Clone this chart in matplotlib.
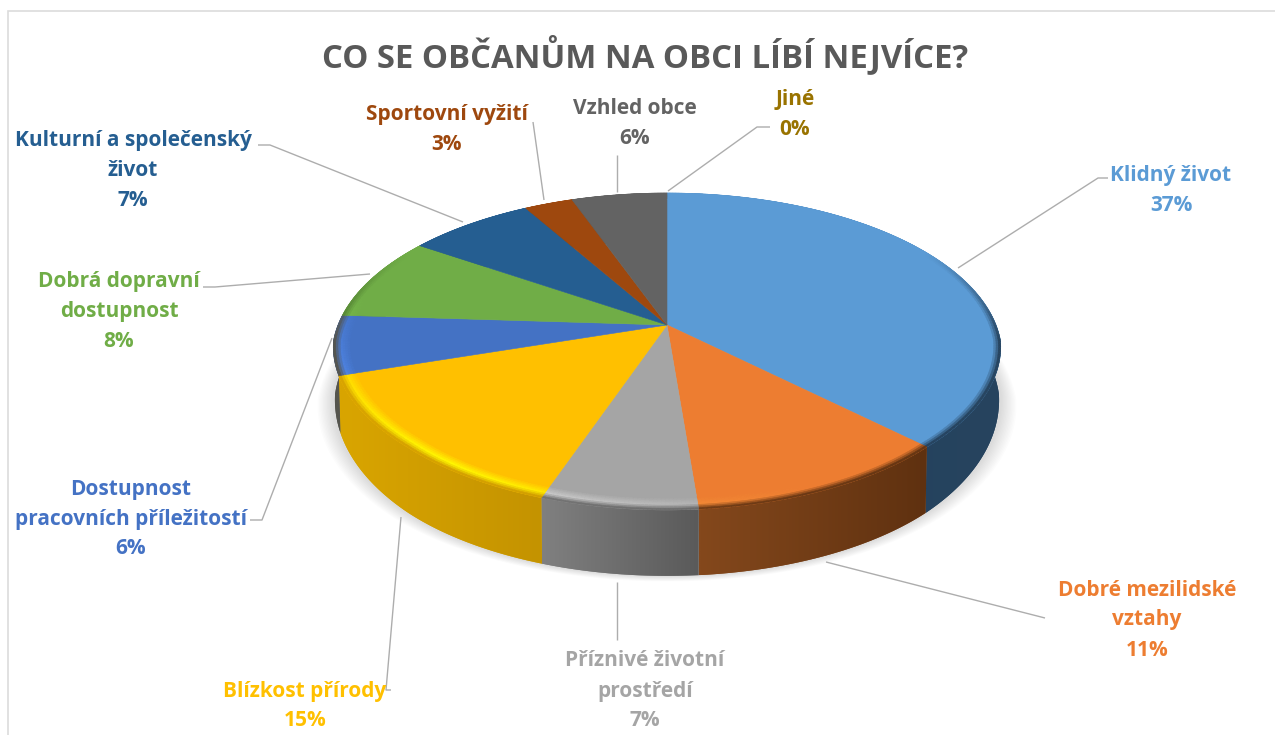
import matplotlib
matplotlib.use("Agg")
import matplotlib.pyplot as plt
import numpy as np
from matplotlib.collections import PolyCollection
from matplotlib.colors import to_rgb
from matplotlib.patches import Polygon, Rectangle

plt.rcParams['font.family'] = ['Open Sans', 'DejaVu Sans']

title = "CO SE OBČANŮM NA OBCI LÍBÍ NEJVÍCE?"
labels = ["Klidný život", "Dobré mezilidské\nvztahy", "Příznivé životní\nprostředí",
          "Blízkost přírody", "Dostupnost\npracovních příležitostí", "Dobrá dopravní\ndostupnost",
          "Kulturní a společenský\nživot", "Sportovní vyžití", "Vzhled obce", "Jiné"]
# shares, the printed labels are these rounded
values = [37.4, 11.3, 6.6, 14.7, 6.0, 8.45, 7.25, 2.8, 5.5, 0]
colors = ["#5B9BD5", "#ED7D31", "#A5A5A5", "#FFC000", "#4472C4",
          "#70AD47", "#255E91", "#9E480E", "#636363", "#997300"]
side_left = ["#1F3F5C", "#84481C", "#808080", "#D9A500", "#55554E",
             "#4E7A30", "#1A4166", "#6E320A", "#454545", "#6B5000"]
side_right = ["#27445F", "#5F3110", "#5A5A5A", "#C49300", "#55554E",
              "#4E7A30", "#1A4166", "#6E320A", "#454545", "#6B5000"]

# label centres (x, y of first line) and leader lines, in pixels
label_pos = [(1171, 175), (1147, 590), (645, 661), (305, 691), (131, 489),
             (119, 281), (133, 140), (447, 114), (635, 108), (795, 99)]
leaders = [[(958, 268), (1098, 178), (1108, 178)],
           [(826, 562), (1045, 618)],
           [(617, 582), (617, 640)],
           [(401, 517), (386, 690), (391, 690)],
           [(332, 338), (262, 520), (250, 520)],
           [(370, 274), (215, 287), (203, 287)],
           [(463, 222), (270, 145), (258, 145)],
           [(544, 200), (533, 122)],
           [(617, 192), (617, 155)],
           [(668, 191), (757, 127), (770, 127)]]

cx, cy = 667, 325
a, b, k = 156.4, 329, 0.185


def project(theta, r=1.0):
    u, v = r * np.sin(theta), r * np.cos(theta)
    d = 1 + k * v
    return cx + b * u / d, cy - a * v / d


def rim(theta):
    return 1 - 0.03 * np.clip((-0.1 - np.cos(theta)) / 0.6, 0, 1)


def wall_depth(theta):
    return 48 + 18 * np.clip((0.1 - np.cos(theta)) / 0.8, 0, 1)


def mix(c1, c2, t):
    return tuple((1 - t) * np.array(c1) + t * np.array(c2))


fig = plt.figure(figsize=(12.75, 7.35), dpi=100, facecolor="white")
ax = fig.add_axes([0, 0, 1, 1])
ax.set_xlim(0, 1275)
ax.set_ylim(735, 0)
ax.axis("off")

ax.add_patch(Rectangle((7.5, 10.5), 1300, 800, fc="white", ec="#DCDCDC", lw=1.2, zorder=0))

# soft shadow under the pie
tt = np.linspace(0, 2 * np.pi, 361)
sx, sy = project(tt, rim(tt))
for grow in np.linspace(16, 1, 12):
    px = cx + (sx - cx) * (1 + grow / 340)
    py = sy + wall_depth(tt) + grow * 0.35
    ax.add_patch(Polygon(np.column_stack([px, py]), fc="black", ec="none", alpha=0.012, zorder=1))

edges = np.cumsum([0] + values) / sum(values) * 2 * np.pi

# side wall, each slice as one outline plus a clipped gradient image
for i in range(len(values)):
    if values[i] == 0:
        continue
    th = np.linspace(edges[i], edges[i + 1], max(int(values[i] * 6), 4))
    x, y = project(th, rim(th))
    dp = wall_depth(th)
    xb = x * 0.995 + cx * 0.005
    yb = y + dp
    outline = np.vstack([np.column_stack([x, y]), np.column_stack([xb, yb])[::-1]])
    shape = Polygon(outline, fc=side_left[i], ec="none", zorder=2)
    ax.add_patch(shape)
    c1, c2 = np.array(to_rgb(side_left[i])), np.array(to_rgb(side_right[i]))
    ramp = np.linspace(0, 1, 64)[None, :, None]
    grad = c1[None, None, :] * (1 - ramp) + c2[None, None, :] * ramp
    im = ax.imshow(grad, extent=(outline[:, 0].min(), outline[:, 0].max(), outline[:, 1].max(), outline[:, 1].min()),
                   aspect="auto", zorder=2.1, interpolation="bilinear")
    im.set_clip_path(shape)
ax.set_xlim(0, 1275)
ax.set_ylim(735, 0)

# top face
for i in range(len(values)):
    if values[i] == 0:
        continue
    th = np.linspace(edges[i], edges[i + 1], max(int(values[i] * 6), 4))
    x, y = project(th, rim(th))
    pts = np.vstack([[cx, cy], np.column_stack([x, y])])
    ax.add_patch(Polygon(pts, fc=colors[i], ec=colors[i], lw=0.4, zorder=3))

# bevel between top face and side wall
steps = np.linspace(-0.055, 0.0, 9)
for i in range(len(values)):
    if values[i] == 0:
        continue
    th = np.linspace(edges[i], edges[i + 1], max(int(values[i] * 6), 4))
    top = to_rgb(colors[i])
    bright = tuple(np.minimum(np.array(top) * 1.3, 1))
    quads, cols = [], []
    for j in range(len(th) - 1):
        mid = (th[j] + th[j + 1]) / 2
        front = np.clip((0.5 - np.cos(mid)) / 0.6, 0, 1)
        hi = np.clip(0.4 - np.sin(mid), 0, 1) * np.clip(0.2 - np.cos(mid), 0, 1)
        xn = np.clip((np.sin(mid) + 1) / 2, 0, 1)
        dark = mix(to_rgb(side_left[i]), to_rgb(side_right[i]), xn)
        for m in range(len(steps) - 1):
            t = m / (len(steps) - 2)
            if t < 0.6:
                c = mix(top, bright, hi * t / 0.6)
            else:
                c = mix(mix(top, bright, hi), dark, ((t - 0.6) / 0.4) * front)
            x0, y0 = project(th[j], rim(th[j]) + steps[m])
            x1, y1 = project(th[j + 1], rim(th[j + 1]) + steps[m])
            x2, y2 = project(th[j + 1], rim(th[j + 1]) + steps[m + 1])
            x3, y3 = project(th[j], rim(th[j]) + steps[m + 1])
            quads.append([(x0, y0), (x1, y1), (x2, y2), (x3, y3)])
            cols.append(c)
    ax.add_collection(PolyCollection(quads, facecolors=cols, edgecolors=cols, lw=0.4, zorder=4))

# leader lines
for line in leaders:
    xs, ys = zip(*line)
    ax.plot(xs, ys, color="#ADADAD", lw=1.0, zorder=5, solid_capstyle="butt")

ax.text(645, 55, title, ha="center", va="center", fontsize=23.7, fontweight="bold", color="#595959")

for name, val, col, (lx, ly) in zip(labels, values, colors, label_pos):
    lines = name.split("\n") + [f"{val:.0f}%"]
    for n, txt in enumerate(lines):
        ax.text(lx, ly + n * 30, txt, ha="center", va="center", fontsize=15,
                fontweight="bold", color=col, zorder=6)

fig.savefig("out.png", dpi=100, facecolor="white")
